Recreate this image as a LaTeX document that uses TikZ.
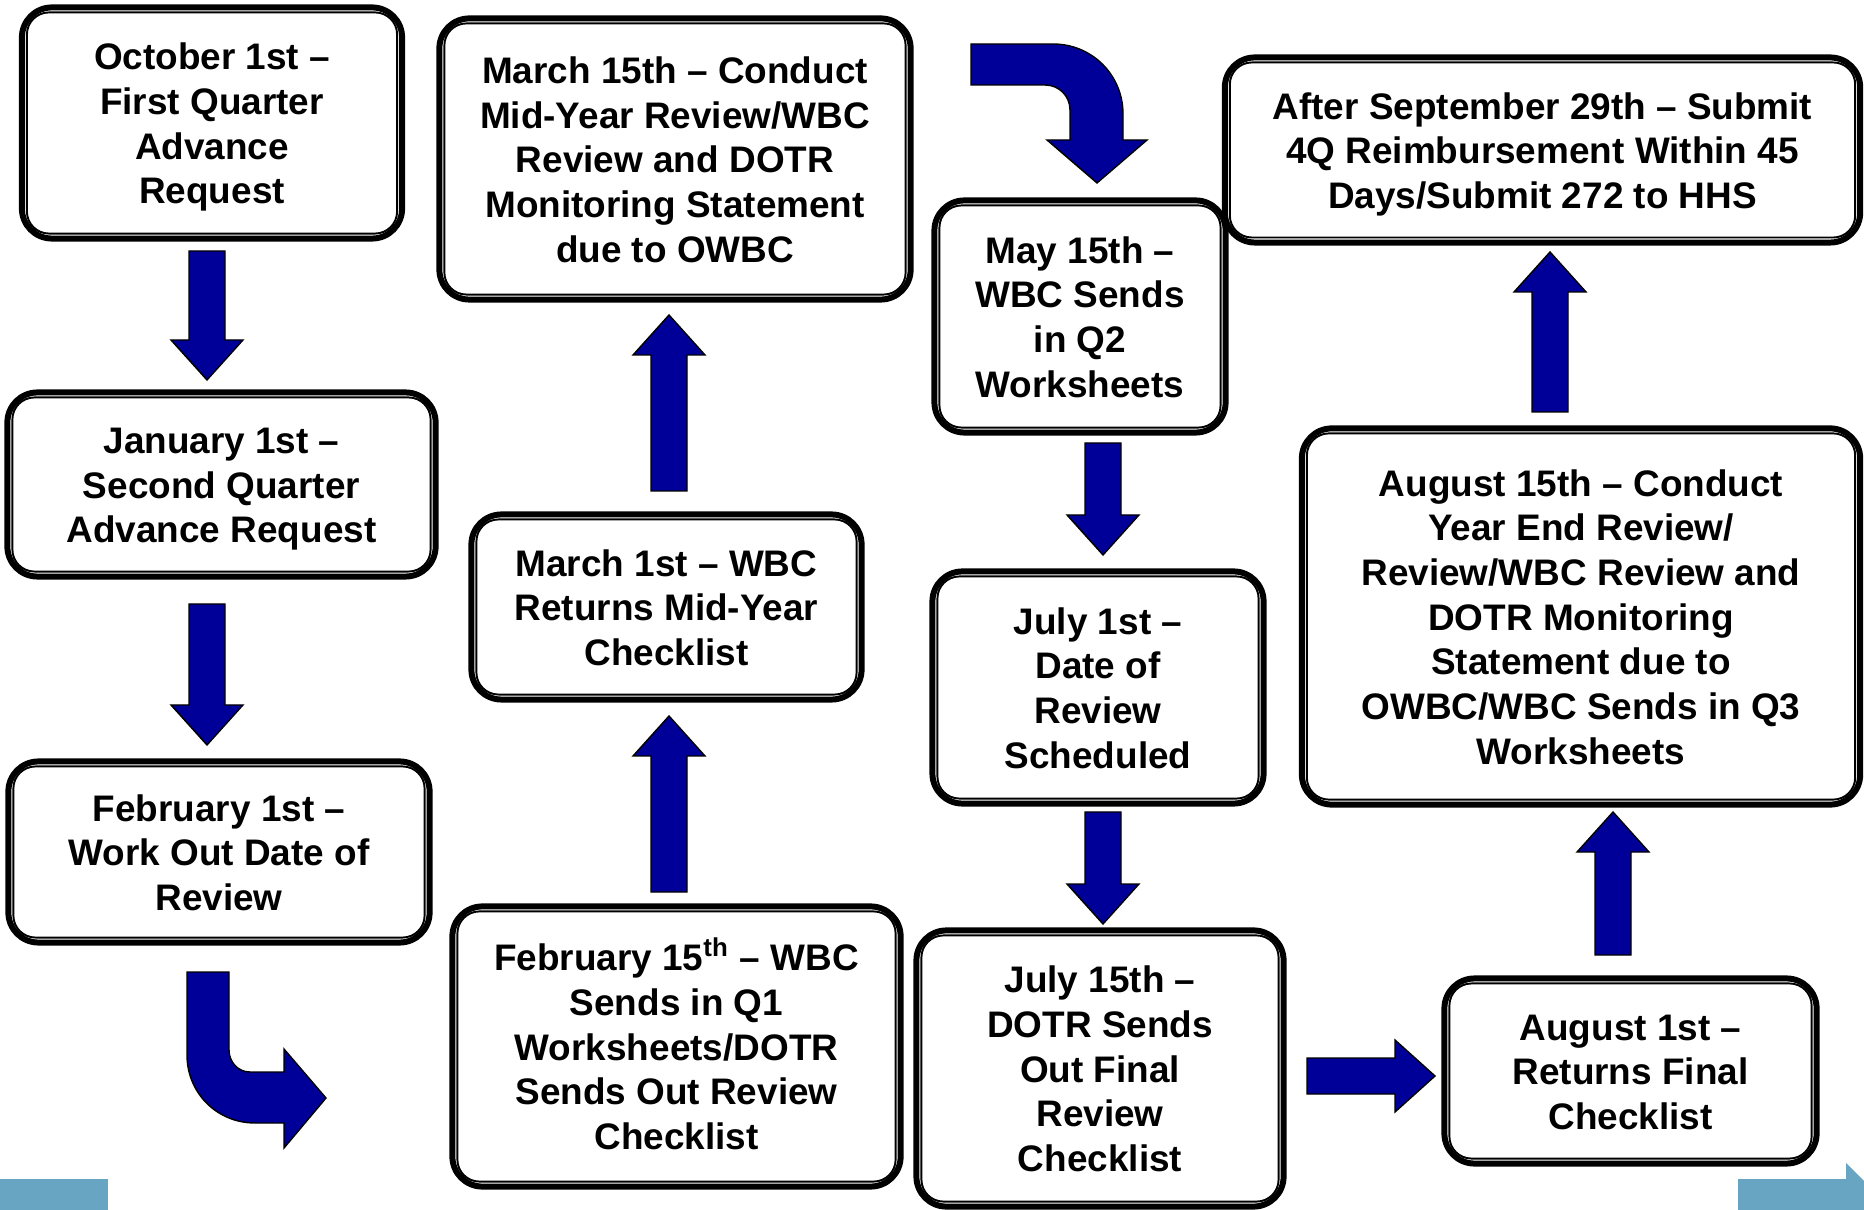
\documentclass[tikz,border=0pt]{standalone}
\usepackage{fontspec}
\setmainfont{Liberation Sans}
\definecolor{arrowblue}{RGB}{0,0,153}
\definecolor{barblue}{RGB}{104,165,194}
\newcommand\stagetext[1]{\begin{tabular}{@{}c@{}}\rule{0pt}{11.6pt}#1\end{tabular}}
\tikzset{
  stage/.style={draw, line width=1.7pt, rounded corners=0.3cm, inner sep=0pt,
    font=\bfseries\fontsize{10.5}{12.7}\selectfont},
  innerline/.style={line width=0.55pt, rounded corners=0.22cm},
  arrowfill/.style={draw=black, fill=arrowblue, line width=0.4pt, line join=miter},
  barrow/.pic={
    \draw[arrowfill] (0,-18) -- (#1-40,-18) -- (#1-40,-36) -- (#1,0) -- (#1-40,36) -- (#1-40,18) -- (0,18) -- cycle;
  }
}
\begin{document}
\begin{tikzpicture}[x=0.01cm, y=-0.01cm]
  \useasboundingbox (0,0) rectangle (1864,1210);
  \node[stage, minimum width=3.80cm, minimum height=2.31cm] (oct) at (212,123) {\stagetext{October 1st –\\First Quarter\\Advance\\Request}};
  \node[stage, minimum width=4.28cm, minimum height=1.84cm] (jan) at (221.5,484.5) {\stagetext{January 1st –\\Second Quarter\\Advance Request}};
  \node[stage, minimum width=4.21cm, minimum height=1.81cm] (feba) at (219,852) {\stagetext{February 1st –\\Work Out Date of\\Review}};
  \node[stage, minimum width=4.48cm, minimum height=2.80cm] (febb) at (676.5,1046.5) {\stagetext{February 15\textsuperscript{th} – WBC\\Sends in Q1\\Worksheets/DOTR\\Sends Out Review\\Checklist}};
  \node[stage, minimum width=3.90cm, minimum height=1.85cm] (mara) at (666.5,607) {\stagetext{March 1st – WBC\\Returns Mid-Year\\Checklist}};
  \node[stage, minimum width=4.71cm, minimum height=2.81cm] (marb) at (675,159) {\stagetext{March 15th – Conduct\\Mid-Year Review/WBC\\Review and DOTR\\Monitoring Statement\\due to OWBC}};
  \node[stage, minimum width=2.91cm, minimum height=2.32cm] (may) at (1080,316.5) {\stagetext{May 15th –\\WBC Sends\\in Q2\\Worksheets}};
  \node[stage, minimum width=3.31cm, minimum height=2.32cm] (jula) at (1098,687.5) {\stagetext{July 1st –\\Date of\\Review\\Scheduled}};
  \node[stage, minimum width=3.67cm, minimum height=2.76cm] (julb) at (1100,1068.5) {\stagetext{July 15th –\\DOTR Sends\\Out Final\\Review\\Checklist}};
  \node[stage, minimum width=3.72cm, minimum height=1.85cm] (auga) at (1630.5,1071) {\stagetext{August 1st –\\Returns Final\\Checklist}};
  \node[stage, minimum width=5.58cm, minimum height=3.76cm] (augb) at (1581,616.5) {\stagetext{August 15th – Conduct\\Year End Review/\\Review/WBC Review and\\DOTR Monitoring\\Statement due to\\OWBC/WBC Sends in Q3\\Worksheets}};
  \node[stage, minimum width=6.35cm, minimum height=1.85cm] (sep) at (1542.5,150) {\stagetext{After September 29th – Submit\\4Q Reimbursement Within 45\\Days/Submit 272 to HHS}};
  \foreach \n in {oct,jan,feba,febb,mara,marb,may,jula,julb,auga,augb,sep}
    \draw[innerline] ([shift={(8,8)}]\n.north west) rectangle ([shift={(-8,-8)}]\n.south east);
  \pic[rotate=-90] at (207,251) {barrow=129};
  \pic[rotate=-90] at (207,604) {barrow=141};
  \pic[rotate=90] at (669,892) {barrow=176};
  \pic[rotate=90] at (669,491) {barrow=176};
  \pic[rotate=-90] at (1103,443) {barrow=112};
  \pic[rotate=-90] at (1103,812) {barrow=112};
  \pic at (1307,1076) {barrow=128};
  \pic[rotate=90] at (1613,955) {barrow=143};
  \pic[rotate=90] at (1550,412) {barrow=160};
  \draw[arrowfill] (187,972) -- (187,1055) .. controls (187,1093) and (217,1123) .. (255,1123) -- (284,1123) -- (284,1148) -- (326,1098) -- (284,1049) -- (284,1072) -- (250,1072) .. controls (238,1072) and (229,1062) .. (229,1050) -- (229,972) -- cycle;
  \draw[arrowfill] (971,44) -- (1053,44) .. controls (1092,44) and (1123,75) .. (1123,114) -- (1123,140) -- (1147,140) -- (1097,183) -- (1047,140) -- (1070,140) -- (1070,110) .. controls (1070,96) and (1059,85) .. (1045,85) -- (971,85) -- cycle;
  \fill[barblue] (0,1179) rectangle (108,1210);
  \fill[barblue] (1738,1179) -- (1846,1179) -- (1846,1163) -- (1864,1181) -- (1864,1210) -- (1738,1210) -- cycle;
\end{tikzpicture}
\end{document}
